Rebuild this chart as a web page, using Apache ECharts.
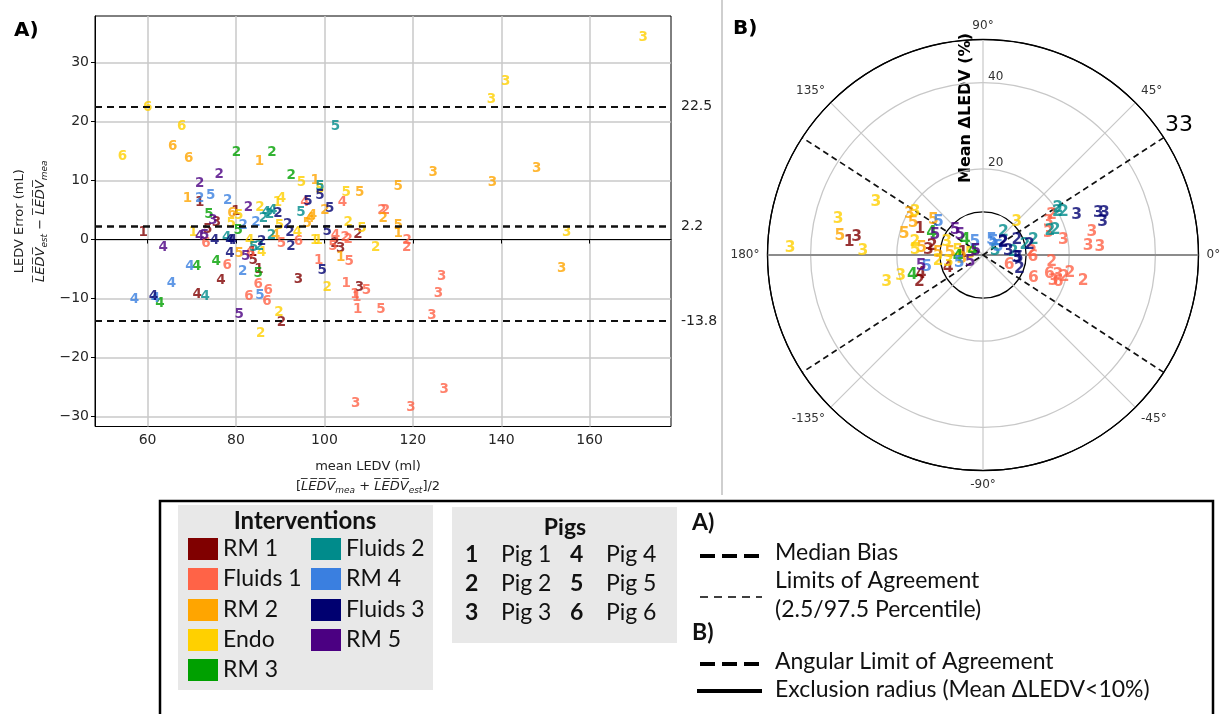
<!DOCTYPE html>
<html>
<head>
<meta charset="utf-8">
<script src="https://cdn.jsdelivr.net/npm/echarts@6/dist/echarts.min.js"></script>
<style>html,body{margin:0;padding:0;background:#fff}#d{width:1222px;height:714px}</style>
</head>
<body>
<div id="d"></div>
<script>
// ---- panel A : [mean LEDV, error, pig] ----
var rm1A = [[59.0,1.2,1],[71.8,6.2,1],[75.6,2.9,3],[73.6,1.7,5],[80.0,4.8,1],[76.6,-7.0,4],[71.2,-9.3,4],[85.2,-5.1,1],[83.9,-3.6,5],[83.7,-2.2,1],[90.3,-14.0,2],[94.1,-6.7,3],[107.9,-8.1,3],[102.4,-0.7,2],[103.7,-1.5,3],[107.6,0.8,2]];
var fluids1A = [[73.2,-0.6,6],[78.0,-4.4,6],[85.0,-7.7,6],[87.3,-8.7,6],[82.9,-9.7,6],[87.0,-10.5,6],[90.3,-0.7,5],[94.1,-0.3,6],[98.7,-3.6,1],[104.9,-7.5,1],[109.5,-8.7,5],[106.9,-9.3,1],[107.3,-9.8,1],[107.5,-11.9,1],[112.8,-11.8,5],[107.1,-27.8,3],[104.1,6.2,4],[95.6,6.3,4],[113.0,4.9,2],[113.8,4.9,2],[102.5,0.7,4],[101.9,-1.1,5],[105.6,-3.8,5],[104.7,0.3,2],[105.4,0.0,2],[118.7,-0.2,2],[118.6,-1.3,2],[126.5,-6.3,3],[125.8,-9.2,3],[124.3,-12.9,3],[127.1,-25.5,3],[119.6,-28.4,3],[83.3,-2.3,6]];
var rm2A = [[65.7,15.8,6],[69.3,13.7,6],[85.3,13.2,1],[97.9,10.0,1],[108.0,8.0,5],[97.3,4.1,4],[100.1,4.9,2],[69.0,6.9,1],[79.1,4.4,6],[80.7,-2.3,5],[88.9,0.6,4],[103.7,-3.0,1],[96.1,2.8,5],[96.8,3.6,4],[113.3,3.5,2],[116.7,9.0,5],[124.6,11.4,3],[138.0,9.7,3],[148.0,12.0,3],[116.7,2.4,5],[116.7,1.0,1],[153.7,-4.9,3]];
var endoA = [[60.0,22.4,6],[67.7,19.2,6],[54.3,14.1,6],[94.8,9.6,5],[104.9,7.9,5],[85.4,5.5,2],[90.3,6.9,4],[89.4,6.2,1],[70.3,1.2,1],[80.6,4.0,5],[78.9,2.8,5],[85.8,-2.2,4],[83.1,-0.2,4],[93.9,1.2,4],[89.7,-12.3,2],[85.6,-16.0,2],[100.6,-8.2,2],[97.8,-0.2,1],[98.6,-0.2,1],[105.4,2.9,2],[108.5,1.9,5],[111.6,-1.3,2],[172.1,34.3,3],[141.0,26.8,3],[137.8,23.7,3],[154.8,1.2,3],[99.0,8.4,5],[89.8,2.3,5]];
var rm3A = [[80.1,14.8,2],[88.1,14.7,2],[92.5,10.8,2],[73.9,4.2,5],[80.5,1.5,5],[75.5,-3.8,4],[71.1,-4.6,4],[62.8,-10.9,4],[85.0,-5.7,5]];
var fluids2A = [[102.5,19.2,5],[99.0,9.0,5],[94.7,4.6,5],[86.9,4.6,4],[87.6,4.2,2],[88.3,5.0,4],[86.2,3.6,2],[77.9,0.4,4],[73.0,-9.7,4],[84.0,-1.4,5],[88.0,0.7,2],[85.3,-1.2,2]];
var rm4A = [[71.8,6.9,2],[74.3,7.5,5],[78.1,6.6,2],[81.6,2.4,2],[84.5,2.9,2],[69.6,-4.6,4],[65.4,-7.5,4],[57.0,-10.2,4],[61.8,-10.0,4],[81.5,-5.4,2],[85.4,-9.5,5]];
var fluids3A = [[99.0,7.5,5],[101.2,5.2,5],[96.3,6.5,5],[89.5,4.4,2],[75.2,-0.1,4],[78.6,-0.2,4],[79.2,-0.2,4],[78.6,-2.3,4],[61.3,-9.7,4],[85.8,-0.3,2],[92.2,1.2,2],[91.7,2.6,2],[92.4,-1.2,2],[99.5,-5.3,5],[100.6,1.4,5]];
var rm5A = [[76.2,11.0,2],[71.8,9.5,2],[82.8,5.5,2],[74.8,3.3,3],[71.8,0.5,4],[72.9,0.6,5],[63.5,-1.3,4],[80.7,-12.7,5],[82.2,-2.9,5]];

// ---- panel B : [mean dLEDV %, angle deg, pig] ----
var rm1B = [[31.2,174.3,1],[29.6,171.8,3],[15.0,-163,4],[16.0,-157.3,2],[15.8,157.8,1],[12.7,174.8,3],[8.6,-160,4],[4.7,173,1],[12.0,170,2]];
var fluids1B = [[6.5,-20.8,6],[12.9,-24.9,6],[16.0,-16,6],[18.5,-19.5,6],[18.0,-15,3],[20.6,-11.9,2],[24.0,-14.5,2],[16.0,-5.6,2],[19.0,10.6,3],[24.5,4.9,3],[27.2,3.8,3],[25.8,11.8,3],[16.0,18.4,3],[17.0,27,3],[18.4,30.2,2],[11.3,3.9,2],[11.6,-2,6],[17.3,-20,3],[19.5,-15,2]];
var rm2B = [[33.5,172.4,5],[17.8,155.5,5],[18.9,165.3,5],[14.3,173.8,5],[14.1,144.8,5],[10.4,177.9,5],[7.7,177,5],[19.5,151,3],[5.0,-170,3]];
var endoB = [[27.7,153.8,3],[34.6,166.1,3],[44.8,178,3],[27.9,178.1,3],[23.2,-164.5,3],[19.7,-165.7,3],[18.7,147.5,3],[16.1,168.9,2],[15.8,175.8,5],[9.0,159.9,3],[8.2,-169,3],[11.0,44.7,3],[6,170,5],[3,175,5],[10.5,-172,2]];
var rm3B = [[17.0,-164.2,4],[13.0,156.5,4],[5.4,140,4],[5.8,-175,4],[2.5,160,4]];
var fluids2B = [[7.2,49,2],[12.2,16.6,2],[16.5,19.7,2],[17.7,19.1,2],[20.0,30.2,2],[21.2,28.3,2],[20.5,32,2],[10.0,13.4,2],[7,5,2],[3,20,5]];
var rm4B = [[13.4,-167.7,5],[12.9,143.3,5],[3.6,121,5],[5.8,-162,5],[3.9,52,5],[4.0,28,5],[4.0,60,5]];
var fluids3B = [[8.6,24,2],[5.4,30,2],[9.1,-21.5,2],[8.2,-5.4,5],[11.0,12.2,2],[7.9,-5.6,3],[23.6,23.1,3],[28.5,20.1,3],[29.8,19.2,3],[28.8,15.5,3],[5.6,33,2],[6,10,3]];
var rm5B = [[14.6,-170,5],[12.1,157.4,5],[8.7,138.2,5],[7.1,139,5],[3.4,-152,5],[2,150,5]];

var interventions = ['RM 1','Fluids 1','RM 2','Endo','RM 3','Fluids 2','RM 4','Fluids 3','RM 5'];
var colors = ['#800000','#ff6347','#ffa500','#ffd000','#00a000','#008b8b','#3a7fe0','#000070','#4b0082'];
var pigs = ['Pig 1','Pig 2','Pig 3','Pig 4','Pig 5','Pig 6'];
var xTicksA = [60,80,100,120,140,160];
var yTicksA = [-30,-20,-10,0,10,20,30];
var biasA = [22.5, 2.2, -13.8];   // upper LoA, median bias, lower LoA
var angLimit = 33;
var rMax = 50;

var dataA = [rm1A,fluids1A,rm2A,endoA,rm3A,fluids2A,rm4A,fluids3A,rm5A];
var dataB = [rm1B,fluids1B,rm2B,endoB,rm3B,fluids2B,rm4B,fluids3B,rm5B];

function ang(a){ return a < 90 ? a + 360 : a; }
function ol(s){ return s.split('').map(function(c){return c+'\u0305';}).join(''); }

var myChart = echarts.init(document.getElementById('d'));
var FONT = 'DejaVu Sans';

option = {
  animation: false,
  textStyle: {fontFamily: FONT},
  grid: {left:95, top:16, width:576, height:410.5, show:true, borderColor:'#000', borderWidth:1},
  xAxis: {
    type:'value', min:48.1, max:178.4,
    axisLine:{lineStyle:{color:'#000'}},
    axisTick:{customValues:xTicksA, length:4, lineStyle:{color:'#000'}},
    axisLabel:{customValues:xTicksA, color:'#262626', fontSize:14, fontFamily:FONT, margin:7},
    splitLine:{show:true, lineStyle:{color:'#c8c8c8', width:1.5}},
    name:'mean LEDV (ml)\n[{it|'+ol('LEDV')+'}{sb|mea} + {it|'+ol('LEDV')+'}{sb|est}]/2',
    nameLocation:'middle', nameGap:30,
    nameTextStyle:{fontFamily:FONT, fontSize:13, color:'#222', lineHeight:20, padding:[0,30,0,0],
      rich:{it:{fontStyle:'italic', fontSize:13, fontFamily:FONT, color:'#222'},
            sb:{fontStyle:'italic', fontSize:9, fontFamily:FONT, color:'#222', padding:[8,0,0,0]}}}
  },
  yAxis: {
    type:'value', min:-31.7, max:37.9,
    axisLine:{show:true, lineStyle:{color:'#000'}},
    axisTick:{show:true, customValues:yTicksA, length:4, lineStyle:{color:'#000'}},
    axisLabel:{customValues:yTicksA, color:'#262626', fontSize:14, fontFamily:FONT, margin:6,
      formatter:function(v){ return v < 0 ? '\u2212' + (-v) : String(v); }},
    splitLine:{show:true, lineStyle:{color:'#c8c8c8', width:1.5}},
    name:'LEDV Error (mL)\n{it|'+ol('LEDV')+'}{sb|est}{n| \u2212 }{it|'+ol('LEDV')+'}{sb|mea}',
    nameLocation:'middle', nameRotate:90, nameGap:44,
    nameTextStyle:{fontFamily:FONT, fontSize:13, color:'#222', lineHeight:21,
      rich:{it:{fontStyle:'italic', fontSize:13, fontFamily:FONT, color:'#222'},
            n:{fontSize:13, fontFamily:FONT, color:'#222'},
            sb:{fontStyle:'italic', fontSize:9, fontFamily:FONT, color:'#222', padding:[8,0,0,0]}}}
  },
  polar: {center:[983,255], radius:215.5},
  angleAxis: {
    type:'value', min:90, max:450, interval:45, startAngle:90, clockwise:false,
    axisLine:{lineStyle:{color:'#000', width:1.2}},
    axisTick:{show:false},
    axisLabel:{color:'#333', fontSize:12, fontFamily:FONT, margin:8,
      formatter:function(v){ var d = v % 360; if (d > 180) d -= 360; return d + '\u00b0'; }},
    splitLine:{lineStyle:{color:'#c8c8c8', width:1.2}}
  },
  radiusAxis: {
    type:'value', min:0, max:rMax, interval:10,
    axisLine:{show:false}, axisTick:{show:false},
    axisLabel:{margin:-5, align:'left', verticalAlign:'bottom', color:'#333', fontSize:12, fontFamily:FONT,
      formatter:function(v){ return (v === 20 || v === 40) ? String(v) : ''; }},
    splitLine:{lineStyle:{width:1.3,
      color:['rgba(0,0,0,0)','#000','#c8c8c8','rgba(0,0,0,0)','#c8c8c8','#000']}}
  },
  series: []
};

// bias / limits of agreement lines (panel A)
option.series.push({
  type:'line', data:[], xAxisIndex:0, yAxisIndex:0, silent:true,
  markLine:{
    symbol:'none', silent:true, animation:false,
    label:{show:true, position:'end', distance:10, color:'#222', fontSize:14, fontFamily:FONT,
      formatter:function(p){ return String(p.value); }},
    data: biasA.map(function(v, i){
      return {yAxis:v, lineStyle:{color:'#111', type:[7,5], width: i === 1 ? 2.6 : 2}};
    })
  }
});

// polar helper lines (panel B)
option.series.push({
  type:'line', coordinateSystem:'polar', symbol:'none', silent:true, z:1,
  lineStyle:{color:'#8c8c8c', width:2},
  data:[[rMax,180],[0,180],[rMax,ang(0)]]
});
[angLimit, -angLimit].forEach(function(a){
  option.series.push({
    type:'line', coordinateSystem:'polar', symbol:'none', silent:true, z:3,
    lineStyle:{color:'#111', width:1.7, type:[6,4]},
    data:[[rMax,ang(a)],[0,ang(a)],[rMax,ang(a > 0 ? a - 180 : a + 180)]]
  });
});

for (var i = 0; i < interventions.length; i++) {
  var lab = {show:true, position:'inside', color:colors[i], fontWeight:'bold', fontFamily:FONT,
    formatter:function(p){ return p.value[2]; }};
  option.series.push({
    name:interventions[i], type:'scatter', xAxisIndex:0, yAxisIndex:0,
    symbolSize:1, itemStyle:{color:'rgba(0,0,0,0)'}, silent:true, z:4,
    label:Object.assign({fontSize:13.5}, lab),
    data:dataA[i]
  });
  option.series.push({
    name:interventions[i], type:'scatter', coordinateSystem:'polar',
    symbolSize:1, itemStyle:{color:'rgba(0,0,0,0)'}, silent:true, z:4,
    label:Object.assign({fontSize:15.5}, lab),
    data:dataB[i].map(function(d){ return [d[0], ang(d[1]), d[2]]; })
  });
}

// ---- graphic: titles, separators, legend box ----
var g = [];
g.push({type:'line', shape:{x1:722,y1:0,x2:722,y2:495}, style:{stroke:'#cfcfcf', lineWidth:2}});
g.push({type:'text', x:14, y:31, style:{text:'A)', font:'bold 20px "DejaVu Sans"', fill:'#000', textVerticalAlign:'middle'}});
g.push({type:'text', x:733, y:29, style:{text:'B)', font:'bold 20px "DejaVu Sans"', fill:'#000', textVerticalAlign:'middle'}});
g.push({type:'text', x:1165, y:125, style:{text:String(angLimit), font:'22px "DejaVu Sans"', fill:'#000', textVerticalAlign:'middle'}});
g.push({type:'text', x:966, y:108, rotation:Math.PI/2,
  style:{text:'Mean \u0394LEDV (%)', font:'bold 16px "DejaVu Sans"', fill:'#000', textAlign:'center', textVerticalAlign:'middle'}});

// legend box
var LF = '23px Lato', LFB = 'bold 24px Lato';
g.push({type:'rect', shape:{x:160,y:501,width:1053,height:240}, style:{fill:'none', stroke:'#000', lineWidth:2.5}});
g.push({type:'rect', shape:{x:178,y:505,width:255,height:185}, style:{fill:'#e8e8e8'}});
g.push({type:'rect', shape:{x:452,y:507,width:225,height:136}, style:{fill:'#e8e8e8'}});
g.push({type:'text', x:305, y:521, style:{text:'Interventions', font:LFB, fill:'#111', textAlign:'center', textVerticalAlign:'middle'}});
var rowY = [549, 579, 610, 640, 670];
for (var k = 0; k < interventions.length; k++) {
  var col = k < 5 ? 0 : 1, row = k < 5 ? k : k - 5;
  var sx = col === 0 ? 188 : 311;
  g.push({type:'rect', shape:{x:sx, y:rowY[row]-11, width:30, height:22}, style:{fill:colors[k]}});
  g.push({type:'text', x:sx+35, y:rowY[row], style:{text:interventions[k], font:LF, fill:'#111', textVerticalAlign:'middle'}});
}
g.push({type:'text', x:565, y:528, style:{text:'Pigs', font:'bold 23px Lato', fill:'#111', textAlign:'center', textVerticalAlign:'middle'}});
var pigY = [555, 584, 613];
for (var p = 0; p < pigs.length; p++) {
  var pc = p < 3 ? 0 : 1, pr = p % 3;
  var px = pc === 0 ? 465 : 570;
  g.push({type:'text', x:px, y:pigY[pr], style:{text:String(p+1), font:'bold 23px Lato', fill:'#111', textVerticalAlign:'middle'}});
  g.push({type:'text', x:px+36, y:pigY[pr], style:{text:pigs[p], font:LF, fill:'#111', textVerticalAlign:'middle'}});
}
g.push({type:'text', x:692, y:523, style:{text:'A)', font:'bold 23px Lato', fill:'#111', textVerticalAlign:'middle'}});
g.push({type:'line', shape:{x1:700,y1:556,x2:762,y2:556}, style:{stroke:'#000', lineWidth:4, lineDash:[15,7]}});
g.push({type:'text', x:775, y:553, style:{text:'Median Bias', font:LF, fill:'#111', textVerticalAlign:'middle'}});
g.push({type:'line', shape:{x1:700,y1:597,x2:762,y2:597}, style:{stroke:'#000', lineWidth:1.3, lineDash:[8,6]}});
g.push({type:'text', x:775, y:581, style:{text:'Limits of Agreement', font:LF, fill:'#111', textVerticalAlign:'middle'}});
g.push({type:'text', x:775, y:610, style:{text:'(2.5/97.5 Percentile)', font:LF, fill:'#111', textVerticalAlign:'middle'}});
g.push({type:'text', x:692, y:633, style:{text:'B)', font:'bold 23px Lato', fill:'#111', textVerticalAlign:'middle'}});
g.push({type:'line', shape:{x1:700,y1:664,x2:762,y2:664}, style:{stroke:'#000', lineWidth:4, lineDash:[15,7]}});
g.push({type:'text', x:775, y:662, style:{text:'Angular Limit of Agreement', font:LF, fill:'#111', textVerticalAlign:'middle'}});
g.push({type:'line', shape:{x1:697,y1:691,x2:762,y2:691}, style:{stroke:'#000', lineWidth:4}});
g.push({type:'text', x:775, y:690, style:{text:'Exclusion radius (Mean \u0394LEDV<10%)', font:LF, fill:'#111', textVerticalAlign:'middle'}});
option.graphic = {elements: g};

option && myChart.setOption(option);
window.addEventListener('resize', function(){ myChart.resize(); });
</script>
</body>
</html>
